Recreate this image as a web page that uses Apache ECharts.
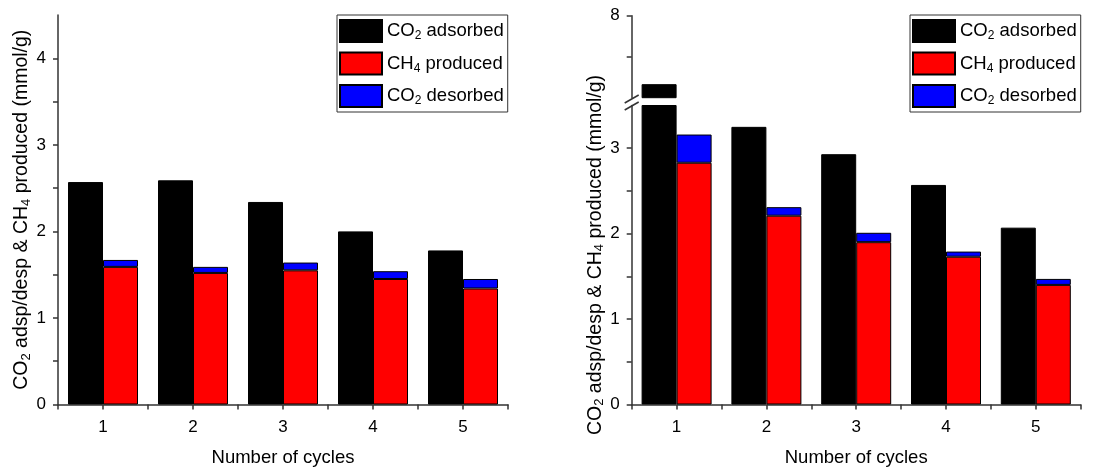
<!DOCTYPE html>
<html>
<head>
<meta charset="utf-8">
<script src="https://cdn.jsdelivr.net/npm/echarts@6/dist/echarts.min.js"></script>
<style>
  html, body { margin: 0; padding: 0; background: #fff; }
  #chart { width: 1118px; height: 469px; }
</style>
</head>
<body>
<div id="chart"></div>
<script>
// x categories
var cycles = ['1', '2', '3', '4', '5'];

// left panel (mmol/g)
var leftAdsorbed = [2.57, 2.59, 2.34, 2.00, 1.78];
var leftProduced = [1.59, 1.52, 1.55, 1.45, 1.34];
var leftDesorbed = [1.67, 1.59, 1.64, 1.54, 1.45];

// right panel (mmol/g), broken y axis
var rightAdsorbed = [6.33, 3.25, 2.93, 2.57, 2.07];
var rightProduced = [2.83, 2.21, 1.90, 1.73, 1.40];
var rightDesorbed = [3.16, 2.31, 2.01, 1.79, 1.47];

// y tick labels / tick marks
var leftYLabels = [0, 1, 2, 3, 4];
var leftYTicks = [0, 0.5, 1, 1.5, 2, 2.5, 3, 3.5, 4];
var rightYLabels = [0, 1, 2, 3];
var rightYTicks = [0, 0.5, 1, 1.5, 2, 2.5, 3];
var upperYLabels = [8];
var upperYTicks = [7, 8];

var seriesNames = ['CO2 adsorbed', 'CH4 produced', 'CO2 desorbed'];

var FONT = 'Liberation Sans, Arial, sans-serif';

var myChart = echarts.init(document.getElementById('chart'));

// rich text with subscripts
function richText(size) {
  return {
    n: { fontSize: size, lineHeight: 22, fontFamily: FONT, color: '#000' },
    s: { fontSize: Math.round(size * 0.65), lineHeight: 14, verticalAlign: 'bottom', fontFamily: FONT, color: '#000' }
  };
}
function subName(name) {
  // 'CO2 adsorbed' -> CO{2} adsorbed
  var m = name.match(/^([A-Z]+)(\d)(.*)$/);
  return '{n|' + m[1] + '}{s|' + m[2] + '}{n|' + m[3] + '}';
}

// blue part sits on top of red: desorbed - produced
function diff(a, b) {
  return a.map(function (v, i) { return +(v - b[i]).toFixed(3); });
}

function makeSeries(xi, yi, ads, prod, des) {
  var border = { borderColor: '#000', borderWidth: 1 };
  return [
    {
      name: seriesNames[0], type: 'bar', xAxisIndex: xi, yAxisIndex: yi,
      data: ads, barWidth: 35, barGap: '0%',
      itemStyle: Object.assign({ color: '#000' }, border)
    },
    {
      name: seriesNames[1], type: 'bar', xAxisIndex: xi, yAxisIndex: yi,
      data: prod, stack: 'p' + xi, barWidth: 35,
      itemStyle: Object.assign({ color: '#ff0000' }, border)
    },
    {
      name: seriesNames[2], type: 'bar', xAxisIndex: xi, yAxisIndex: yi,
      data: diff(des, prod), stack: 'p' + xi, barWidth: 35,
      itemStyle: Object.assign({ color: '#0000ff' }, border)
    }
  ];
}

var lineStyle = { color: '#333', width: 1.5 };
var labelStyle = { color: '#000', fontSize: 17, fontFamily: FONT };

function catAxis(gi) {
  return {
    type: 'category', gridIndex: gi, data: cycles, position: 'bottom',
    axisLine: { lineStyle: lineStyle },
    axisTick: { show: true, length: 5, lineStyle: lineStyle },
    axisLabel: Object.assign({ margin: 14 }, labelStyle),
    name: 'Number of cycles',
    nameLocation: 'middle', nameGap: 44,
    nameTextStyle: { color: '#000', fontSize: 18.5, fontFamily: FONT }
  };
}
// second category axis just for the ticks under each label
function centerTicks(gi) {
  return {
    type: 'category', gridIndex: gi, data: cycles, position: 'bottom',
    axisLine: { show: false },
    axisTick: { show: true, alignWithLabel: true, length: 5, lineStyle: lineStyle },
    axisLabel: { show: false }
  };
}

var yName = '{n|CO}{s|2}{n| adsp/desp & CH}{s|4}{n| produced (mmol/g)}';

function valAxis(gi, min, max, labels, ticks, withName) {
  return {
    type: 'value', gridIndex: gi, min: min, max: max,
    splitLine: { show: false },
    axisLine: { show: true, lineStyle: lineStyle },
    axisTick: { show: true, length: 5, customValues: ticks, lineStyle: lineStyle },
    axisLabel: Object.assign({ margin: 12, customValues: labels }, labelStyle),
    name: withName ? yName : '',
    nameLocation: 'middle', nameGap: 24,
    nameTextStyle: { rich: richText(19.5) }
  };
}

function legendAt(left) {
  return {
    data: seriesNames,
    orient: 'vertical', left: left, top: 15,
    itemWidth: 42, itemHeight: 22, itemGap: 8.5,
    padding: [4, 4, 4, 2],
    borderColor: '#333', borderWidth: 1,
    icon: 'rect',
    selectedMode: false,
    formatter: subName,
    textStyle: { rich: richText(18.5) }
  };
}

var brX = 631.7;
var option = {
  backgroundColor: '#fff',
  animation: false,
  grid: [
    { left: 58, top: 15, width: 450, height: 389.5, outerBoundsMode: 'none' },
    { left: brX, top: 105.5, width: 449, height: 299, outerBoundsMode: 'none' },
    { left: brX, top: 15.7, width: 449, height: 82, outerBoundsMode: 'none' }
  ],
  legend: [legendAt(337), legendAt(910)],
  xAxis: [
    catAxis(0),
    centerTicks(0),
    catAxis(1),
    centerTicks(1),
    { type: 'category', gridIndex: 2, data: cycles, show: false }
  ],
  yAxis: [
    valAxis(0, 0, 4.5, leftYLabels, leftYTicks, true),
    valAxis(1, 0, 3.5, rightYLabels, rightYTicks, true),
    valAxis(2, 6, 8, upperYLabels, upperYTicks, false)
  ],
  series: []
    .concat(makeSeries(0, 0, leftAdsorbed, leftProduced, leftDesorbed))
    .concat(makeSeries(2, 1, rightAdsorbed, rightProduced, rightDesorbed))
    .concat(makeSeries(4, 2, rightAdsorbed, rightProduced, rightDesorbed)),
  // break marks on the right y axis
  graphic: [
    { type: 'line', shape: { x1: brX - 7, y1: 103, x2: brX + 7, y2: 95 }, style: { stroke: '#333', lineWidth: 1.5 } },
    { type: 'line', shape: { x1: brX - 7, y1: 110, x2: brX + 7, y2: 102 }, style: { stroke: '#333', lineWidth: 1.5 } }
  ]
};

myChart.setOption(option);
</script>
</body>
</html>
